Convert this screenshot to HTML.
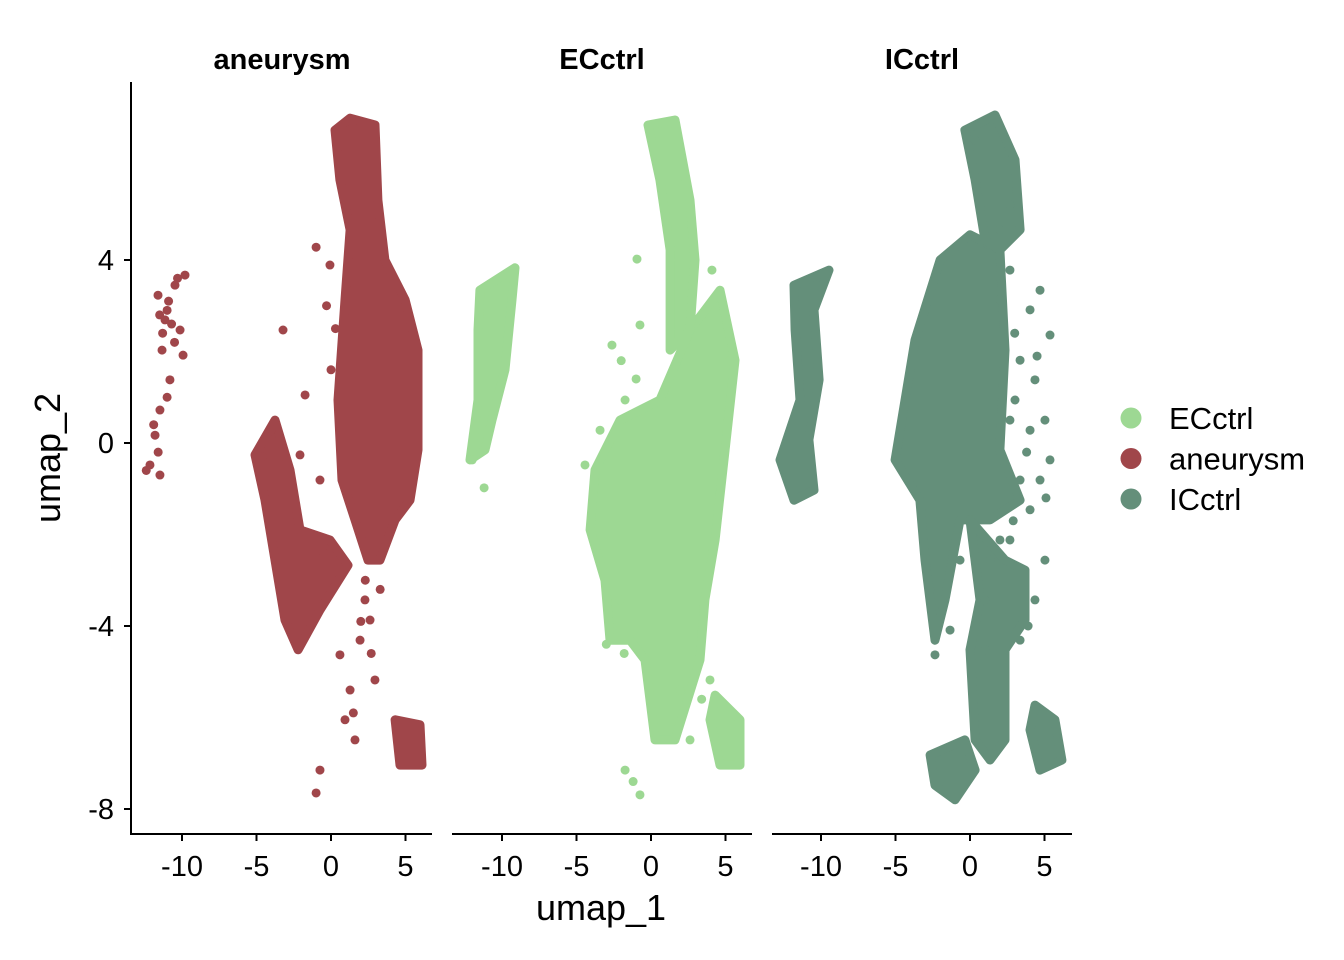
<!DOCTYPE html>
<html><head><meta charset="utf-8"><style>
html,body{margin:0;padding:0;background:#fff}
svg{display:block;font-family:"Liberation Sans",Arial,sans-serif}
</style></head><body>
<svg id="chart" width="1344" height="960" viewBox="0 0 1344 960"></svg>
<script>
// ---- data (UMAP coordinates) ----
const groups = ["aneurysm","ECctrl","ICctrl"];
const groupColors = ["#A0464A","#9DD893","#648F7A"];
const legendOrder = ["ECctrl","aneurysm","ICctrl"];
const xTicks = [-10,-5,0,5];
const yTicks = [4,0,-4,-8];
// dense regions per panel (polygons in data units)
const aneurysmRegions = [
 [[0.27,6.84],[1.28,7.10],[2.95,6.95],[3.15,5.31],[3.62,4.0],[4.97,3.13],[5.84,2.03],[5.84,-0.15],[5.30,-1.25],[4.30,-1.68],[3.29,-2.56],[2.48,-2.56],[1.61,-1.68],[0.74,-0.81],[0.47,0.94],[0.94,3.13],[1.28,4.66],[0.60,5.75]],
 [[-5.1,-0.26],[-3.76,0.50],[-2.75,-0.59],[-2.08,-1.90],[-0.07,-2.12],[1.14,-2.67],[-0.74,-3.65],[-2.21,-4.52],[-3.09,-3.87],[-3.76,-2.56],[-4.43,-1.25]],
 [[4.30,-6.05],[5.97,-6.16],[6.11,-7.04],[4.63,-7.04]]
];
const aneurysmPoints = [[-1.0,4.28],[-0.07,3.89],[-3.22,2.47],[-1.74,1.05],[-2.08,-0.26],[-0.74,-0.81],[0.6,-4.63],[1.28,-5.4],[0.94,-6.05],[1.61,-6.49],[-0.74,-7.15],[-1.0,-7.65],[2.95,-5.18],[2.62,-3.87],[2.28,-3.43],[1.95,-4.31],[2.3,-3.0],[2.7,-4.6],[1.5,-5.9],[-11.61,3.23],[-10.47,3.45],[-9.8,3.67],[-11.14,2.69],[-10.13,2.47],[-11.34,2.03],[-10.81,1.38],[-11.48,0.72],[-11.81,0.17],[-12.15,-0.48],[-11.48,-0.70],[-9.93,1.92],[-10.9,3.1],[-11.3,2.4],[-10.5,2.2],[-11.0,1.0],[-11.6,-0.2],[-12.4,-0.6],[-10.3,3.6],[-11.0,2.9],[-10.7,2.6],[-11.5,2.8],[-11.9,0.4],[0.3,2.5],[-0.3,3.0],[0.0,1.6],[-3.5,0.2],[-4.6,-0.3],[-4.0,0.3],[-0.5,-2.4],[3.3,-3.2],[2.0,-3.9]];
const ecRegions = [
 [[-11.48,3.34],[-9.13,3.83],[-9.33,3.13],[-9.8,1.60],[-10.67,0.50],[-11.14,-0.15],[-12.15,-0.37],[-11.61,0.94],[-11.61,2.47]],
 [[-3.76,-0.59],[-2.08,0.50],[0.60,0.94],[2.62,2.47],[4.63,3.34],[5.64,1.81],[4.97,-0.15],[4.30,-2.12],[3.62,-3.43],[3.29,-4.74],[1.61,-6.49],[0.27,-6.49],[-0.40,-4.74],[-1.41,-4.31],[-2.75,-4.31],[-3.09,-3.0],[-4.09,-1.90]],
 [[-0.20,6.95],[1.61,7.06],[2.62,5.31],[2.95,4.0],[2.62,2.47],[1.28,2.03],[1.28,4.22],[0.60,5.75]],
 [[4.30,-5.51],[5.97,-6.05],[5.97,-7.04],[4.63,-7.04],[3.96,-6.05]]
];
const ecPoints = [[-0.94,4.02],[-2.62,2.14],[-0.74,2.58],[-1.74,0.94],[-3.42,0.28],[-4.43,-0.48],[-2.08,-3.43],[-1.74,-7.15],[-0.74,-7.69],[2.62,-6.49],[3.96,-5.18],[1.95,-5.4],[4.09,3.78],[5.3,1.81],[-12.0,-0.37],[-11.2,-0.98],[-1.2,-7.4],[3.4,-5.6],[-2.0,1.8],[-1.0,1.4],[-3.0,-4.4],[-1.8,-4.6]];
const icRegions = [
 [[-11.81,3.45],[-9.46,3.78],[-10.47,2.91],[-10.13,1.38],[-10.81,0.07],[-10.47,-1.03],[-11.81,-1.25],[-12.75,-0.37],[-11.41,0.94],[-11.74,2.47]],
 [[-5.03,-0.37],[-3.69,2.25],[-2.01,4.0],[0,4.55],[2.01,4.22],[2.35,2.03],[2.01,-0.15],[3.36,-1.25],[1.34,-1.68],[-0.67,-1.68],[-1.68,-3.43],[-2.35,-4.31],[-3.02,-2.56],[-3.36,-1.25]],
 [[-0.34,6.84],[1.68,7.17],[3.02,6.19],[3.36,4.66],[2.01,4.22],[1.01,4.44],[0.34,5.75]],
 [[0,-1.68],[2.35,-2.56],[3.69,-2.78],[3.69,-3.87],[2.35,-4.52],[2.35,-6.49],[1.34,-6.93],[0.34,-6.49],[0,-4.52],[0.67,-3.43]],
 [[-2.68,-6.82],[-0.34,-6.49],[0.34,-7.15],[-1.01,-7.80],[-2.35,-7.48]],
 [[4.36,-5.73],[5.70,-6.05],[6.17,-6.93],[4.70,-7.15],[4.03,-6.27]]
];
const icPoints = [[2.68,3.78],[4.03,2.91],[5.37,2.36],[3.36,1.81],[4.36,1.38],[3.02,0.94],[5.03,0.50],[4.03,0.28],[5.37,-0.37],[4.70,-0.81],[3.36,-0.81],[2.68,0.5],[4.03,-1.46],[2.68,-2.12],[1.34,-2.56],[1.01,-3.43],[1.01,-4.52],[2.01,-2.12],[4.70,3.34],[2.01,3.13],[5.03,-2.56],[4.36,-3.43],[3.36,-4.31],[-2.35,-4.63],[-1.34,-4.09],[-2.68,-3.21],[-0.67,-2.56],[0.34,6.62],[2.68,5.2],[2.01,4.66],[3.0,2.4],[4.5,1.9],[3.8,-0.2],[2.9,-1.7],[5.1,-1.2],[3.9,-4.0]];
const panelRegions = [aneurysmRegions, ecRegions, icRegions];
const panelPoints = [aneurysmPoints, ecPoints, icPoints];

// ---- layout ----
const NS="http://www.w3.org/2000/svg";
const svg=document.getElementById('chart');
const panelLeft=[132,452,772], panelW=300, zeroX=[331,651,970];
const xScale=14.9, yTop=82, yBot=834;
function X(p,v){return zeroX[p]+v*xScale;}
function Y(v){return 443-v*45.75;}
function mk(tag,attrs,parent){const e=document.createElementNS(NS,tag);for(const k in attrs)e.setAttribute(k,attrs[k]);(parent||svg).appendChild(e);return e;}

for(let p=0;p<3;p++){
  const g=mk('g',{});
  
  
  const col=groupColors[p];
  panelRegions[p].forEach((poly,i)=>{
    const d=poly.map((pt,j)=>(j?'L':'M')+X(p,pt[0]).toFixed(1)+','+Y(pt[1]).toFixed(1)).join('')+'Z';
    const path=mk('path',{d:d,fill:col,stroke:col,'stroke-width':9,'stroke-linejoin':'round'},g);
    
    
  });
  panelPoints[p].forEach(pt=>{
    const c=mk('circle',{cx:X(p,pt[0]),cy:Y(pt[1]),r:4.5,fill:col},g);
    
    
  });
  const ax=mk('line',{x1:panelLeft[p],x2:panelLeft[p]+panelW,y1:yBot,y2:yBot,stroke:'#000','stroke-width':2});
  
  
  xTicks.forEach(t=>{
    mk('line',{x1:X(p,t),x2:X(p,t),y1:yBot,y2:yBot+7,stroke:'#000','stroke-width':2});
    const tx=mk('text',{x:X(p,t),y:yBot+42,'text-anchor':'middle','font-size':29,fill:'#000'});
    tx.textContent=t;
    
    
  });
  const st=mk('text',{x:panelLeft[p]+panelW/2,y:69,'text-anchor':'middle','font-size':29,'font-weight':'bold',fill:'#000'});
  st.textContent=groups[p];
  
  
}
const ya=mk('line',{x1:131,x2:131,y1:yTop,y2:yBot+1,stroke:'#000','stroke-width':2});


yTicks.forEach(t=>{
  mk('line',{x1:124,x2:131,y1:Y(t),y2:Y(t),stroke:'#000','stroke-width':2});
  const tx=mk('text',{x:114,y:Y(t)+10,'text-anchor':'end','font-size':29,fill:'#000'});
  tx.textContent=t;
  
  
});
const xt=mk('text',{x:601,y:920,'text-anchor':'middle','font-size':36,fill:'#000'});
xt.textContent='umap_1';


const yt=mk('text',{x:0,y:0,'text-anchor':'middle','font-size':36,fill:'#000',transform:'translate(60,458) rotate(-90)'});
yt.textContent='umap_2';


legendOrder.forEach((name,i)=>{
  const gi=groups.indexOf(name);
  const y=418+i*40.5;
  const c=mk('circle',{cx:1131,cy:y,r:10.5,fill:groupColors[gi]});
  
  
  const t=mk('text',{x:1169,y:y+11,'font-size':31,fill:'#000'});
  t.textContent=name;
  
  
});
</script>
</body></html>
